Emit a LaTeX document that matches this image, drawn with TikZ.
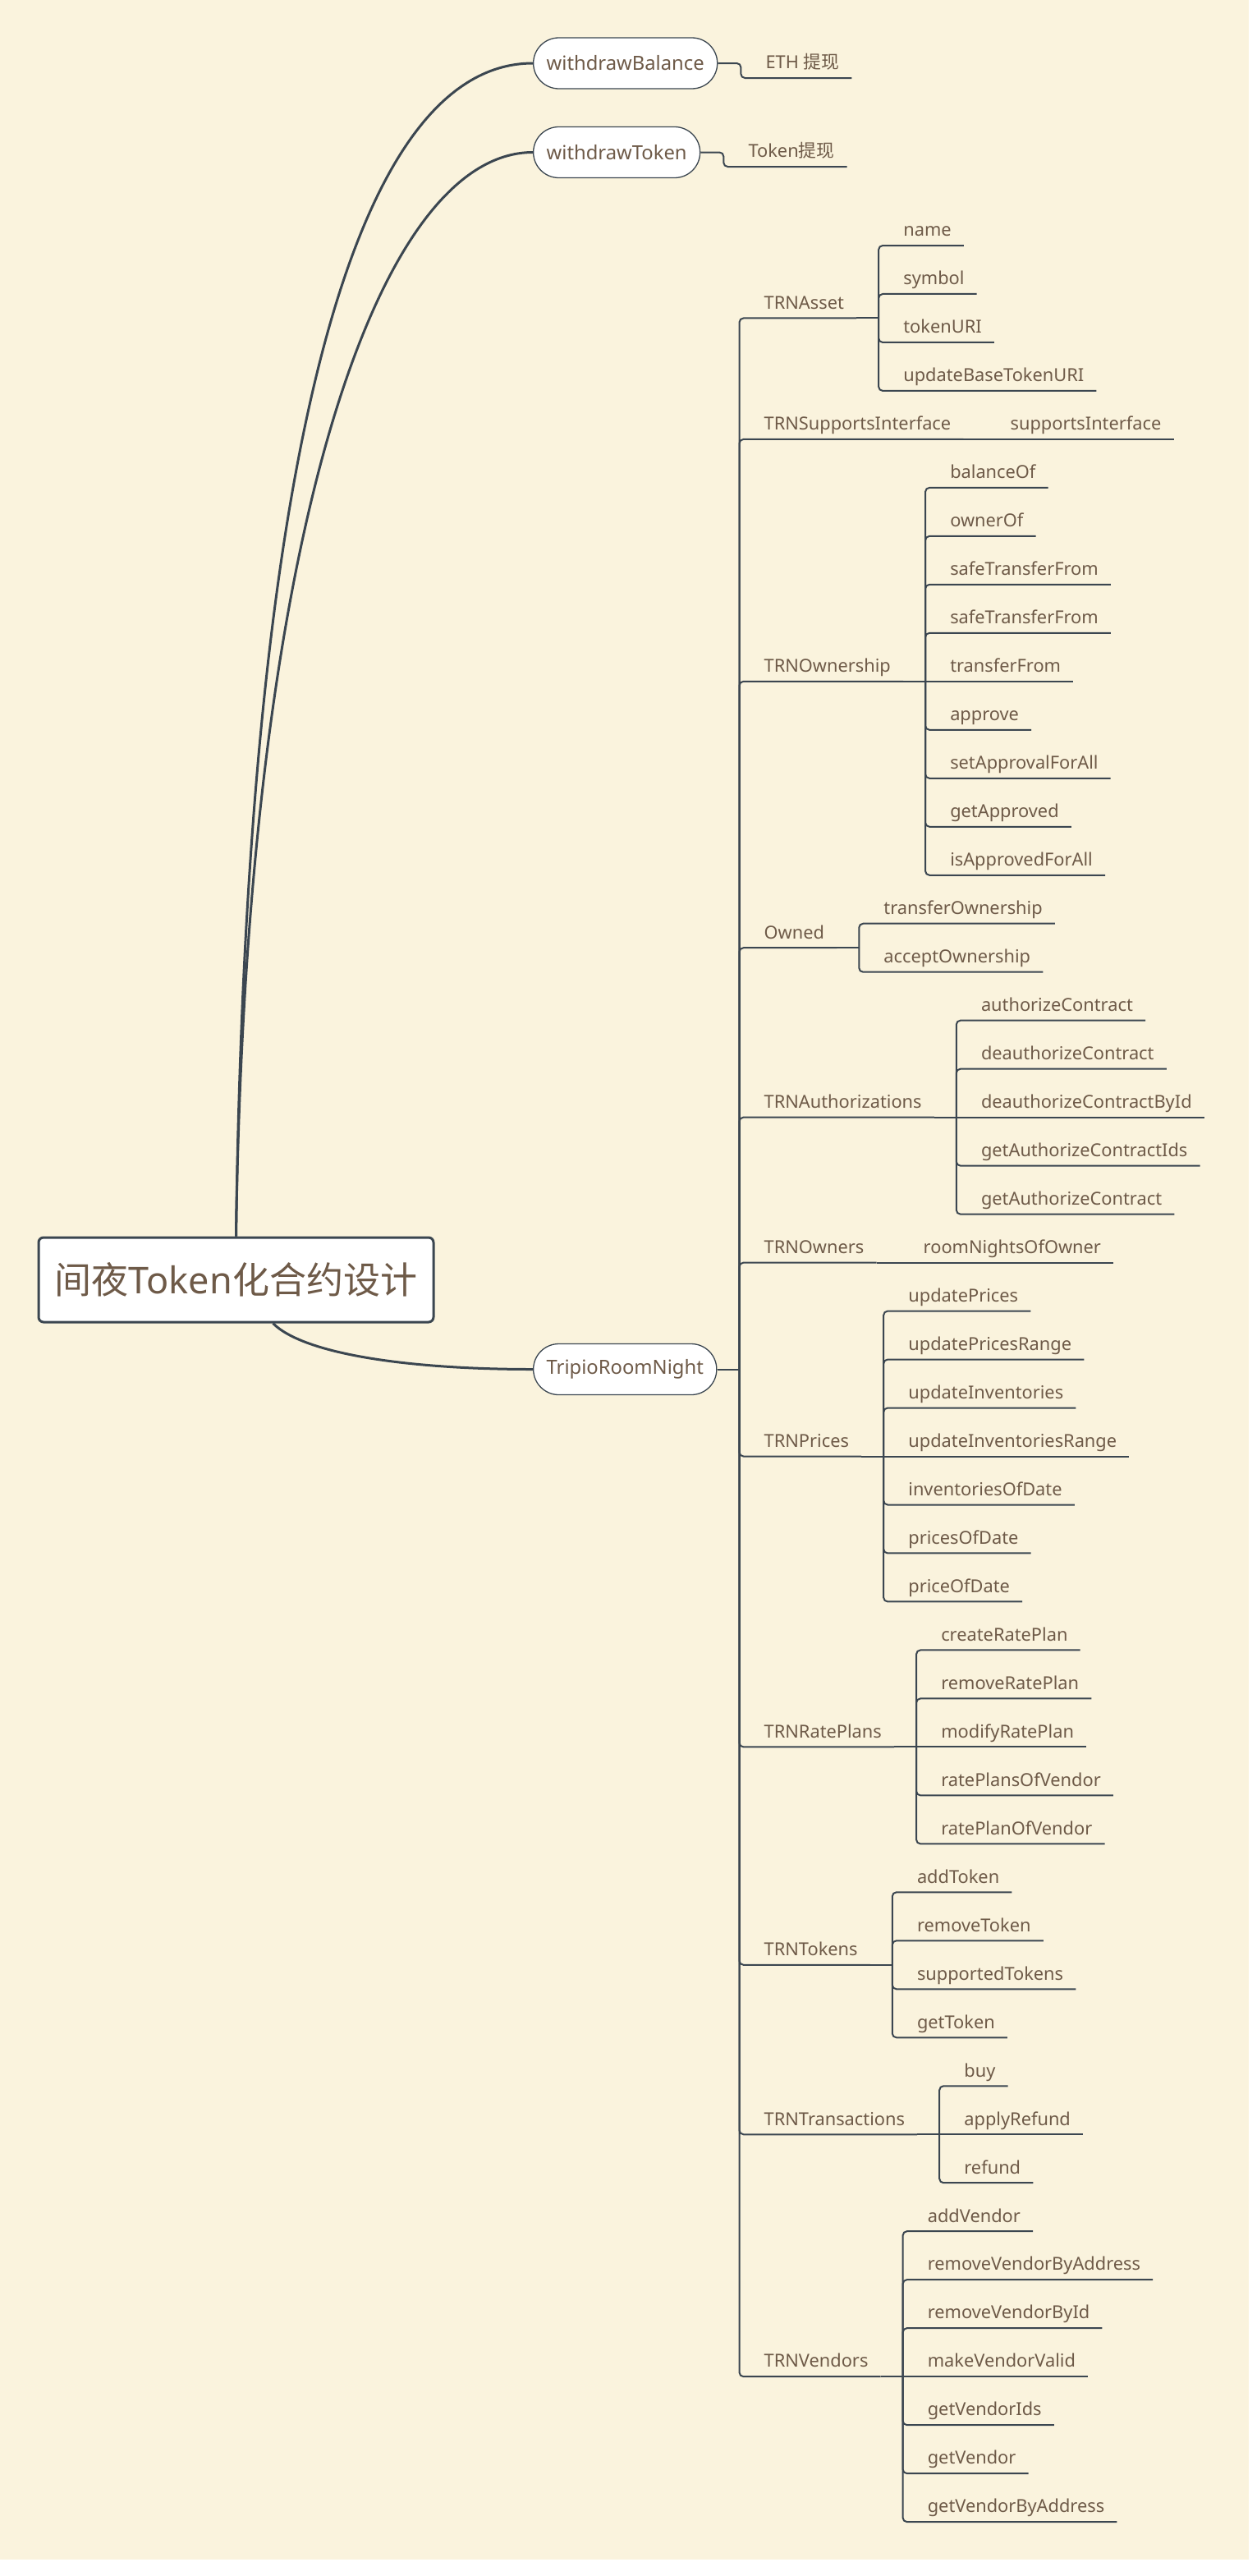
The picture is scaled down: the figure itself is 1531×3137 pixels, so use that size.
\documentclass[tikz,border=0pt]{standalone}
\usepackage{fontspec}
\setmainfont{Noto Sans}
\newfontfamily\cjk{Noto Sans CJK SC}
\definecolor{bgc}{HTML}{FAF3DD}
\definecolor{txc}{HTML}{6E5A48}
\definecolor{lnc}{HTML}{3B4650}
\tikzset{
  lbl/.style={inner xsep=15pt, inner ysep=0pt, text height=17pt, text depth=11pt,
    text=txc, font=\fontsize{21.8}{26}\selectfont},
  pill/.style={draw=lnc, line width=1.3pt, fill=white, rounded corners=31pt,
    minimum height=62pt, inner xsep=16pt, text=txc, font=\fontsize{23.8}{28}\selectfont},
  rootbox/.style={draw=lnc, line width=3pt, fill=white, rounded corners=6pt,
    minimum width=481pt, minimum height=103pt, text=txc, font=\fontsize{45}{52}\selectfont},
  conn/.style={draw=lnc, line width=2pt, rounded corners=5pt},
  flat/.style={draw=lnc, line width=2pt},
  rootconn/.style={draw=lnc, line width=3pt}
}
\newcommand\grp[3]{%
  \node[lbl, anchor=south west, xshift=15pt] (#1) at (trunk |- 0,{299+58.98*#2}) {#3};
  \draw[conn] (trunk) |- (#1.south east);
  \draw[flat] (#1.south east) -- ++(27,0);
}
% leaf on another row than its parent
\newcommand\lf[4]{%
  \node[lbl, anchor=south west, xshift=42pt] (#3) at (#1.south east |- 0,{299+58.98*#2}) {#4};
  \draw[conn] ([xshift=27pt]#1.south east) |- (#3.south east);
}
% leaf on the same row as its parent
\newcommand\lfs[4]{%
  \node[lbl, anchor=south west, xshift=42pt] (#3) at (#1.south east |- 0,{299+58.98*#2}) {#4};
  \draw[flat] ([xshift=27pt]#1.south east) -- (#3.south east);
}
\begin{document}
\begin{tikzpicture}[x=1pt,y=-1pt]
\useasboundingbox (0,0) rectangle (1531,3137);
\fill[white] (0,0) rectangle (1531,3137);
\fill[bgc] (0,0) rectangle (1521,3117);

% main nodes
\node[rootbox] (root) at (287.5,1558.5) {{\cjk 间夜}Token{\cjk 化合约设计}};
\node[pill, anchor=west] (wb) at (649,77) {withdrawBalance};
\node[pill, anchor=west] (wt) at (649,185.5) {withdrawToken};
\node[pill, anchor=west] (trn) at (649,1667.5) {TripioRoomNight};

% root connectors
\draw[rootconn] (root.north) .. controls +(12,-907) and +(-229,0) .. (wb.west);
\draw[rootconn] (root.north) .. controls +(12,-857) and +(-189,0) .. (wt.west);
\draw[rootconn] ([xshift=45pt]root.south) .. controls +(38,38) and +(-149,0) .. (trn.west);

% withdraw leaves
\node[lbl, anchor=south west, xshift=43pt] (eth) at (wb.east |- 0,95) {ETH {\cjk 提现}};
\draw[conn] (wb.east) -- ++(28,0) |- (eth.south east);
\node[lbl, anchor=south west, xshift=43pt] (tkw) at (wt.east |- 0,203) {Token{\cjk 提现}};
\draw[conn] (wt.east) -- ++(28,0) |- (tkw.south east);

% trunk
\coordinate (trunk) at ([xshift=27pt]trn.east);
\draw[flat] (trn.east) -- (trunk);

% TRNAsset
\grp{ga}{1.5}{TRNAsset}
\lf{ga}{0}{a0}{name}
\lf{ga}{1}{a1}{symbol}
\lf{ga}{2}{a2}{tokenURI}
\lf{ga}{3}{a3}{updateBaseTokenURI}
% TRNSupportsInterface
\grp{gs}{4}{TRNSupportsInterface}
\lfs{gs}{4}{s0}{supportsInterface}
% TRNOwnership
\grp{go}{9}{TRNOwnership}
\lf{go}{5}{o0}{balanceOf}
\lf{go}{6}{o1}{ownerOf}
\lf{go}{7}{o2}{safeTransferFrom}
\lf{go}{8}{o3}{safeTransferFrom}
\lfs{go}{9}{o4}{transferFrom}
\lf{go}{10}{o5}{approve}
\lf{go}{11}{o6}{setApprovalForAll}
\lf{go}{12}{o7}{getApproved}
\lf{go}{13}{o8}{isApprovedForAll}
% Owned
\grp{gw}{14.5}{Owned}
\lf{gw}{14}{w0}{transferOwnership}
\lf{gw}{15}{w1}{acceptOwnership}
% TRNAuthorizations
\grp{gz}{18}{TRNAuthorizations}
\lf{gz}{16}{z0}{authorizeContract}
\lf{gz}{17}{z1}{deauthorizeContract}
\lfs{gz}{18}{z2}{deauthorizeContractById}
\lf{gz}{19}{z3}{getAuthorizeContractIds}
\lf{gz}{20}{z4}{getAuthorizeContract}
% TRNOwners
\grp{gn}{21}{TRNOwners}
\lfs{gn}{21}{n0}{roomNightsOfOwner}
% TRNPrices
\grp{gp}{25}{TRNPrices}
\lf{gp}{22}{p0}{updatePrices}
\lf{gp}{23}{p1}{updatePricesRange}
\lf{gp}{24}{p2}{updateInventories}
\lfs{gp}{25}{p3}{updateInventoriesRange}
\lf{gp}{26}{p4}{inventoriesOfDate}
\lf{gp}{27}{p5}{pricesOfDate}
\lf{gp}{28}{p6}{priceOfDate}
% TRNRatePlans
\grp{gr}{31}{TRNRatePlans}
\lf{gr}{29}{r0}{createRatePlan}
\lf{gr}{30}{r1}{removeRatePlan}
\lfs{gr}{31}{r2}{modifyRatePlan}
\lf{gr}{32}{r3}{ratePlansOfVendor}
\lf{gr}{33}{r4}{ratePlanOfVendor}
% TRNTokens
\grp{gt}{35.5}{TRNTokens}
\lf{gt}{34}{t0}{addToken}
\lf{gt}{35}{t1}{removeToken}
\lf{gt}{36}{t2}{supportedTokens}
\lf{gt}{37}{t3}{getToken}
% TRNTransactions
\grp{gx}{39}{TRNTransactions}
\lf{gx}{38}{x0}{buy}
\lfs{gx}{39}{x1}{applyRefund}
\lf{gx}{40}{x2}{refund}
% TRNVendors
\grp{gv}{44}{TRNVendors}
\lf{gv}{41}{v0}{addVendor}
\lf{gv}{42}{v1}{removeVendorByAddress}
\lf{gv}{43}{v2}{removeVendorById}
\lfs{gv}{44}{v3}{makeVendorValid}
\lf{gv}{45}{v4}{getVendorIds}
\lf{gv}{46}{v5}{getVendor}
\lf{gv}{47}{v6}{getVendorByAddress}
\end{tikzpicture}
\end{document}
